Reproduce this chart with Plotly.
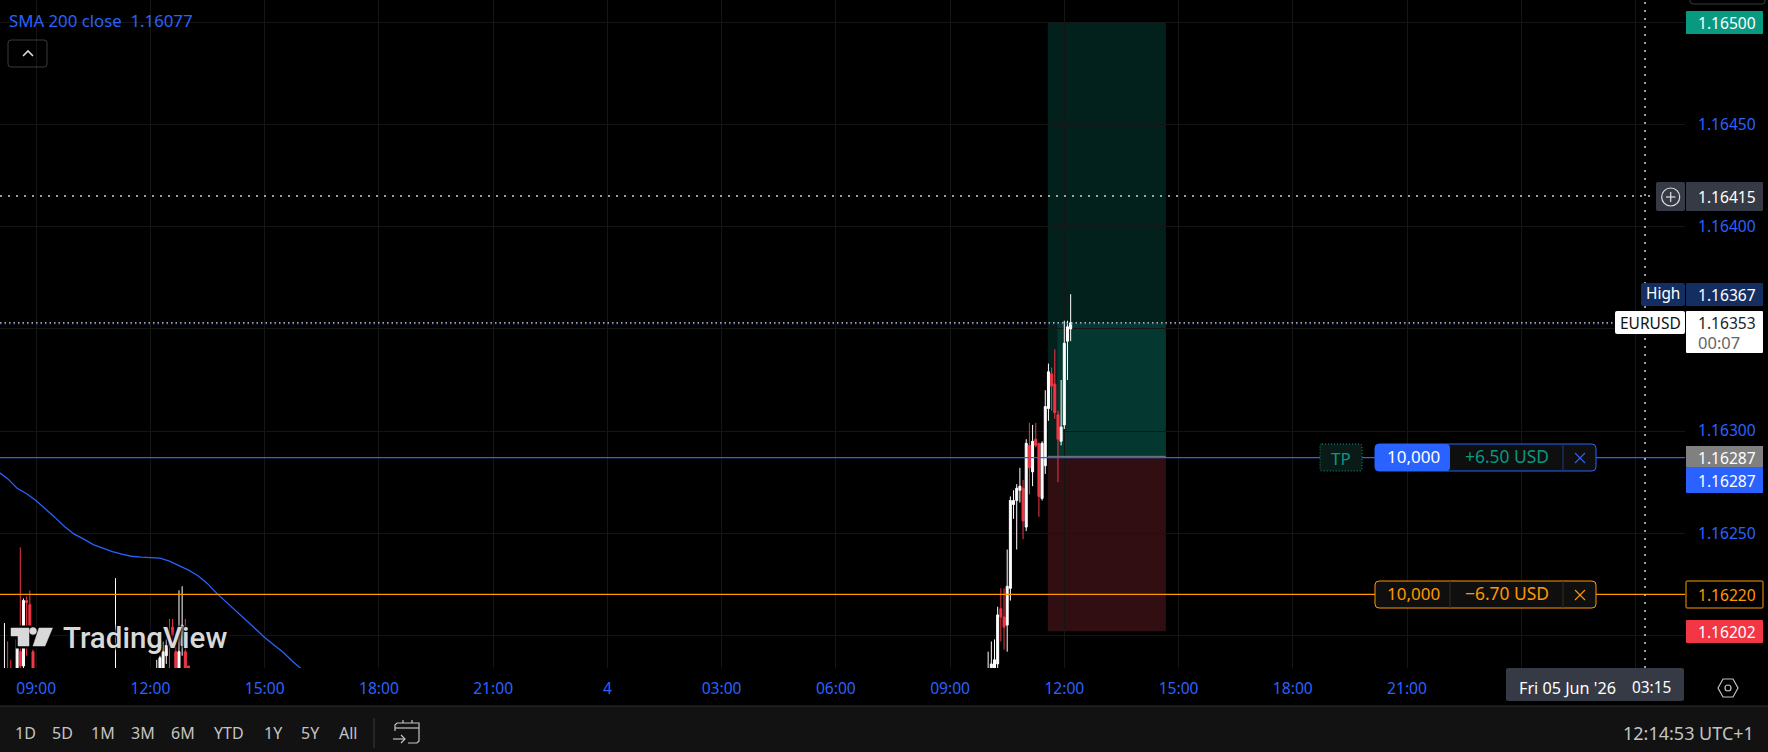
import plotly.graph_objects as go

# EURUSD 5 min candles (only the ones that show)
candle_times = [
    "2026-06-03 08:10", "2026-06-03 08:15", "2026-06-03 08:20", "2026-06-03 08:30", "2026-06-03 08:35",
    "2026-06-03 08:40", "2026-06-03 08:45", "2026-06-03 08:50", "2026-06-03 08:55", "2026-06-03 11:05",
    "2026-06-03 12:10", "2026-06-03 12:15", "2026-06-03 12:20", "2026-06-03 12:25", "2026-06-03 12:30",
    "2026-06-03 12:35", "2026-06-03 12:40", "2026-06-03 12:45", "2026-06-03 12:50", "2026-06-03 12:55",
    "2026-06-03 13:00",
    "2026-06-04 10:00", "2026-06-04 10:05", "2026-06-04 10:10", "2026-06-04 10:15", "2026-06-04 10:20",
    "2026-06-04 10:25", "2026-06-04 10:30", "2026-06-04 10:35", "2026-06-04 10:40", "2026-06-04 10:45",
    "2026-06-04 10:50", "2026-06-04 10:55", "2026-06-04 11:00", "2026-06-04 11:05", "2026-06-04 11:10",
    "2026-06-04 11:15", "2026-06-04 11:20", "2026-06-04 11:25", "2026-06-04 11:30", "2026-06-04 11:35",
    "2026-06-04 11:40", "2026-06-04 11:45", "2026-06-04 11:50", "2026-06-04 11:55", "2026-06-04 12:00",
    "2026-06-04 12:05", "2026-06-04 12:10",
]
opens = [
    1.16170, 1.16178, 1.16180, 1.16175, 1.16192, 1.16185, 1.16217, 1.16215, 1.16192, 1.16178,
    1.16170, 1.16178, 1.16180, 1.16190, 1.16200, 1.16204, 1.16192, 1.16178, 1.16195, 1.16192, 1.16185,
    1.16178, 1.16181, 1.16182, 1.16186, 1.16213, 1.16209, 1.16205, 1.16223, 1.16264, 1.16266,
    1.16271, 1.16272, 1.16253, 1.16293, 1.16280, 1.16296, 1.16294, 1.16267, 1.16283, 1.16311,
    1.16328, 1.16323, 1.16308, 1.16295, 1.16303, 1.16344, 1.16350,
]
highs = [
    1.16206, 1.16197, 1.16188, 1.16200, 1.16243, 1.16218, 1.16219, 1.16222, 1.16193, 1.16228,
    1.16188, 1.16190, 1.16197, 1.16198, 1.16208, 1.16208, 1.16200, 1.16222, 1.16224, 1.16208, 1.16185,
    1.16192, 1.16197, 1.16198, 1.16214, 1.16223, 1.16223, 1.16242, 1.16268, 1.16271, 1.16274,
    1.16282, 1.16276, 1.16296, 1.16304, 1.16303, 1.16304, 1.16294, 1.16295, 1.16320, 1.16333,
    1.16331, 1.16340, 1.16310, 1.16325, 1.16354, 1.16354, 1.16367,
]
lows = [
    1.16165, 1.16168, 1.16170, 1.16170, 1.16178, 1.16180, 1.16190, 1.16199, 1.16175, 1.16175,
    1.16165, 1.16175, 1.16178, 1.16186, 1.16180, 1.16197, 1.16175, 1.16175, 1.16190, 1.16175, 1.16175,
    1.16175, 1.16178, 1.16180, 1.16183, 1.16197, 1.16193, 1.16192, 1.16217, 1.16257, 1.16242,
    1.16265, 1.16247, 1.16251, 1.16269, 1.16273, 1.16292, 1.16258, 1.16266, 1.16279, 1.16305,
    1.16310, 1.16306, 1.16275, 1.16293, 1.16301, 1.16325, 1.16344,
]
closes = [
    1.16178, 1.16172, 1.16175, 1.16198, 1.16185, 1.16217, 1.16216, 1.16204, 1.16178, 1.16180,
    1.16176, 1.16189, 1.16192, 1.16195, 1.16195, 1.16200, 1.16178, 1.16192, 1.16205, 1.16178, 1.16180,
    1.16181, 1.16186, 1.16188, 1.16210, 1.16209, 1.16204, 1.16224, 1.16266, 1.16266, 1.16272,
    1.16273, 1.16256, 1.16294, 1.16282, 1.16295, 1.16293, 1.16268, 1.16294, 1.16312, 1.16329,
    1.16322, 1.16309, 1.16296, 1.16302, 1.16343, 1.16351, 1.16353,
]

# SMA 200 line
sma_times = [
    "2026-06-03 08:00", "2026-06-03 08:15", "2026-06-03 08:30", "2026-06-03 08:45", "2026-06-03 09:00",
    "2026-06-03 09:15", "2026-06-03 09:30", "2026-06-03 09:45", "2026-06-03 10:00", "2026-06-03 10:15",
    "2026-06-03 10:30", "2026-06-03 10:45", "2026-06-03 11:00", "2026-06-03 11:15", "2026-06-03 11:30",
    "2026-06-03 11:45", "2026-06-03 12:00", "2026-06-03 12:15", "2026-06-03 12:30", "2026-06-03 12:45",
    "2026-06-03 13:00", "2026-06-03 13:15", "2026-06-03 13:30", "2026-06-03 13:45", "2026-06-03 14:00",
    "2026-06-03 14:15", "2026-06-03 14:30", "2026-06-03 14:45", "2026-06-03 15:00", "2026-06-03 15:15",
    "2026-06-03 15:30", "2026-06-03 15:45", "2026-06-03 16:00",
]
sma_values = [
    1.162801, 1.162767, 1.162720, 1.162693, 1.162659, 1.162615, 1.162576, 1.162532, 1.162495, 1.162471,
    1.162444, 1.162427, 1.162410, 1.162397, 1.162387, 1.162383, 1.162380, 1.162378, 1.162363, 1.162343,
    1.162319, 1.162292, 1.162253, 1.162204, 1.162162, 1.162121, 1.162079, 1.162033, 1.161989, 1.161950,
    1.161915, 1.161869, 1.161830,
]

time_ticks = [
    "2026-06-03 09:00", "2026-06-03 12:00", "2026-06-03 15:00", "2026-06-03 18:00", "2026-06-03 21:00",
    "2026-06-04 00:00", "2026-06-04 03:00", "2026-06-04 06:00", "2026-06-04 09:00", "2026-06-04 12:00",
    "2026-06-04 15:00", "2026-06-04 18:00", "2026-06-04 21:00", "2026-06-05 00:00", "2026-06-05 03:00",
]
time_labels = ["09:00", "12:00", "15:00", "18:00", "21:00", "4", "03:00", "06:00", "09:00", "12:00",
               "15:00", "18:00", "21:00", "", ""]
price_ticks = [1.162, 1.1625, 1.163, 1.1635, 1.164, 1.1645, 1.165]
price_labels = ["", "1.16250", "1.16300", "", "1.16400", "1.16450", ""]

# trade levels
entry = 1.16287
take_profit = 1.16500
stop_loss = 1.16202
order_level = 1.16220
last_price = 1.16353
cursor_price = 1.16415
cursor_time = "2026-06-05 03:15"
tool_start = "2026-06-04 11:34"
fill_start = "2026-06-04 11:49"
tool_end = "2026-06-04 14:40"

W, H = 1768, 752
PW, PH = 1685, 668  # plot area in px
FONT = "Noto Sans"
BLUE = "#2962ff"
ORANGE = "#ff9800"
GREEN = "#089981"
RED = "#f23645"
PANEL = "#363a45"
BAR = "#121212"
GRID = "#151515"


def px(x):
    return x / PW


def py(y):
    return 1 - y / PH


shapes = []
notes = []


def rbox(x0, y0, x1, y1, r=0, fill="rgba(0,0,0,0)", line=None, lw=1, dash=None):
    # rounded box in screen px
    p = (f"M {px(x0 + r)} {py(y0)} L {px(x1 - r)} {py(y0)} Q {px(x1)} {py(y0)} {px(x1)} {py(y0 + r)} "
         f"L {px(x1)} {py(y1 - r)} Q {px(x1)} {py(y1)} {px(x1 - r)} {py(y1)} "
         f"L {px(x0 + r)} {py(y1)} Q {px(x0)} {py(y1)} {px(x0)} {py(y1 - r)} "
         f"L {px(x0)} {py(y0 + r)} Q {px(x0)} {py(y0)} {px(x0 + r)} {py(y0)} Z")
    shapes.append(dict(type="path", path=p, xref="paper", yref="paper", fillcolor=fill,
                       line=dict(color=line or "rgba(0,0,0,0)", width=lw if line else 0, dash=dash or "solid")))


def pline(points, color, w=1.0, fill=None, close=False):
    p = "M " + " L ".join(f"{px(a)} {py(b)}" for a, b in points) + (" Z" if close else "")
    shapes.append(dict(type="path", path=p, xref="paper", yref="paper", line=dict(color=color, width=w),
                       fillcolor=fill or "rgba(0,0,0,0)"))


def circle(cx, cy, r, color, w=1.0, fill=None):
    shapes.append(dict(type="circle", xref="paper", yref="paper", x0=px(cx - r), x1=px(cx + r),
                       y0=py(cy + r), y1=py(cy - r), line=dict(color=color, width=w),
                       fillcolor=fill or "rgba(0,0,0,0)"))


def label(x, y, s, color, size=15.6, anchor="center", family=FONT, **font_extra):
    notes.append(dict(text=s, x=px(x), y=py(y), xref="paper", yref="paper", showarrow=False, xanchor=anchor,
                      yanchor="middle", borderpad=0, font=dict(family=family, size=size, color=color, **font_extra)))


# position tool, behind the candles
shapes += [
    dict(type="rect", xref="x", yref="y", x0=tool_start, x1=tool_end, y0=entry, y1=take_profit,
         fillcolor="#03211c", line_width=0, layer="below"),
    dict(type="rect", xref="x", yref="y", x0=fill_start, x1=tool_end, y0=entry, y1=last_price,
         fillcolor="#04372f", line_width=0, layer="below"),
    dict(type="rect", xref="x", yref="y", x0=tool_start, x1=tool_end, y0=stop_loss, y1=entry,
         fillcolor="#300e11", line_width=0, layer="below"),
    dict(type="line", xref="x", yref="y", x0=tool_start, x1=tool_end, y0=take_profit, y1=take_profit,
         line=dict(color="#0d4a3f", width=1), layer="below"),
]

# level lines
shapes += [
    dict(type="line", xref="x", yref="y", x0=tool_start, x1=tool_end, y0=entry + 0.000006, y1=entry + 0.000006,
         line=dict(color="#787b86", width=1)),
    dict(type="line", xref="paper", yref="y", x0=0, x1=1, y0=entry, y1=entry, line=dict(color=BLUE, width=1.2)),
    dict(type="line", xref="paper", yref="y", x0=0, x1=1, y0=order_level, y1=order_level,
         line=dict(color=ORANGE, width=1.2)),
    dict(type="line", xref="paper", yref="y", x0=0, x1=px(1615), y0=last_price - 0.000005,
         y1=last_price - 0.000005, line=dict(color=BLUE, width=1, dash="1.5px,3px")),
    dict(type="line", xref="paper", yref="y", x0=0, x1=px(1615), y0=last_price, y1=last_price,
         line=dict(color="#e8e8e8", width=1, dash="1.5px,3px")),
    dict(type="line", xref="paper", yref="y", x0=0, x1=px(1656), y0=cursor_price, y1=cursor_price,
         line=dict(color="#d0d0d0", width=1.5, dash="2px,6px")),
    dict(type="line", xref="x", yref="paper", x0=cursor_time, x1=cursor_time, y0=0, y1=1,
         line=dict(color="#d0d0d0", width=1.5, dash="2px,6px")),
]

# bottom toolbar
rbox(0, 706, W, H, fill=BAR)
shapes.append(dict(type="line", xref="paper", yref="paper", x0=0, x1=px(W), y0=py(706), y1=py(706),
                   line=dict(color="#2e2e2e", width=1)))
for cx, s in zip([25, 63, 103, 143, 183, 229, 273, 310, 348], ["1D", "5D", "1M", "3M", "6M", "YTD", "1Y", "5Y", "All"]):
    label(cx, 733, s, "#c4c4c4", 16)
shapes.append(dict(type="line", xref="paper", yref="paper", x0=px(374), x1=px(374), y0=py(718), y1=py(748),
                   line=dict(color="#3a3a3a", width=1)))
pline([(395, 731), (395, 725), (397, 723), (419, 723), (419, 741), (417, 743), (408, 743)], "#c4c4c4", 1.2)
pline([(395, 728), (419, 728)], "#c4c4c4", 1.2)
pline([(403, 720), (403, 723)], "#c4c4c4", 1.2)
pline([(412, 720), (412, 723)], "#c4c4c4", 1.2)
pline([(393, 739), (405, 739)], "#c4c4c4", 1.2)
pline([(401, 735), (405, 739), (401, 743)], "#c4c4c4", 1.2)
label(1755, 733, "12:14:53 UTC+1", "#c4c4c4", 18, anchor="right")

# legend bits, top left
label(8, 20, "SMA 200 close&nbsp;&nbsp;1.16077", BLUE, 16.8, anchor="left")
rbox(8, 40, 47, 67, r=3, line="#3a3a3a")
pline([(23, 56), (28, 51), (33, 56)], "#d8d8d8", 1.6)

# logo
pline([(11, 628), (29, 628), (29, 646), (18, 646), (18, 636), (11, 636)], "#000000", 5, fill="#000000", close=True)
pline([(39, 628), (52.5, 628), (45, 646), (33, 646)], "#000000", 5, fill="#000000", close=True)
pline([(11, 628), (29, 628), (29, 646), (18, 646), (18, 636), (11, 636)], "#d9d9d9", 0.5, fill="#d9d9d9", close=True)
pline([(39, 628), (52.5, 628), (45, 646), (33, 646)], "#d9d9d9", 0.5, fill="#d9d9d9", close=True)
circle(33, 631, 3.5, "#d9d9d9", 0.5, fill="#d9d9d9")
label(62, 638, "TradingView", "#d9d9d9", 29.5, anchor="left", family="Roboto", weight=500,
      shadow="0 0 3px #000, 0 0 3px #000, 0 0 4px #000")

# price scale tags
rbox(1690, -6, 1765, 4, r=3, line="#3a3a3a")
rbox(1686, 11, 1763, 34, r=1, fill=GREEN)
label(1697, 23, "1.16500", "#ffffff", anchor="left")
rbox(1656, 182, 1685, 211, r=2, fill=PANEL)
circle(1670.7, 197, 9, "#e0e0e0", 1.2)
pline([(1666, 197), (1675.5, 197)], "#e0e0e0", 1.2)
pline([(1670.7, 192), (1670.7, 202)], "#e0e0e0", 1.2)
rbox(1686, 182, 1763, 211, r=1, fill=PANEL)
label(1697, 197, "1.16415", "#ffffff", anchor="left")
rbox(1641, 283, 1685, 306, r=2, fill="#142e61")
label(1663, 293, "High", "#ffffff", 15.4)
rbox(1686, 283, 1763, 306, r=1, fill="#142e61")
label(1697, 295, "1.16367", "#ffffff", anchor="left")
rbox(1615, 311, 1685, 334, r=2, fill="#ffffff")
label(1650, 323, "EURUSD", "#111111", 15.5)
rbox(1686, 311, 1763, 353, r=1, fill="#ffffff")
label(1697, 323, "1.16353", "#222222", anchor="left")
label(1697, 342, "00:07", "#666666", 16.5, anchor="left")
rbox(1686, 446, 1763, 467, fill="#808080")
label(1697, 458, "1.16287", "#ffffff", anchor="left")
rbox(1686, 467, 1763, 493, r=1, fill=BLUE)
label(1697, 481, "1.16287", "#ffffff", anchor="left")
rbox(1686, 581, 1763, 608, r=1, fill="#000000", line=ORANGE)
label(1697, 595, "1.16220", ORANGE, anchor="left")
rbox(1686, 620, 1763, 643, r=1, fill=RED)
label(1697, 632, "1.16202", "#ffffff", anchor="left")

# order widgets
rbox(1320, 444, 1362, 471, r=2, fill="#0a1a17", line=GREEN, dash="1px,2px")
label(1341, 458, "TP", GREEN, 17)

rbox(1375, 444, 1596, 471, r=4, fill="#0f0f0f", line=BLUE)
rbox(1375, 444, 1450, 471, r=4, fill=BLUE)
pline([(1563, 444), (1563, 471)], "#1b3a8a", 1)
label(1413, 456, "10,000", "#ffffff", 17)
label(1507, 456, "+6.50 USD", GREEN, 17.4)
pline([(1575, 453), (1585, 463)], BLUE, 1.1)
pline([(1585, 453), (1575, 463)], BLUE, 1.1)

rbox(1375, 581, 1596, 608, r=4, fill="#0f0f0f", line=ORANGE)
pline([(1450, 581), (1450, 608)], "#3a2d1a", 1)
pline([(1563, 581), (1563, 608)], "#3a2d1a", 1)
label(1413, 593, "10,000", ORANGE, 17)
label(1507, 593, "\u22126.70 USD", ORANGE, 17.4)
pline([(1575, 590), (1585, 600)], ORANGE, 1.1)
pline([(1585, 590), (1575, 600)], ORANGE, 1.1)

# time scale cursor + settings
rbox(1506, 668, 1684, 701, r=2, fill=PANEL)
label(1518, 688, "Fri 05 Jun '26", "#ffffff", 16.2, anchor="left")
label(1631, 688, "03:15", "#ffffff", 15.4, anchor="left")
pline([(1718, 688), (1723, 679), (1733, 679), (1738, 688), (1733, 697), (1723, 697)], "#c4c4c4", 1.2, close=True)
circle(1728, 688, 3, "#c4c4c4", 1.2)

fig = go.Figure()
fig.add_trace(go.Candlestick(
    x=candle_times, open=opens, high=highs, low=lows, close=closes,
    increasing=dict(line=dict(color="#ffffff", width=1), fillcolor="#ffffff"),
    decreasing=dict(line=dict(color=RED, width=1), fillcolor=RED),
    whiskerwidth=0, hoverinfo="skip", showlegend=False
))
fig.add_trace(go.Scatter(
    x=sma_times, y=sma_values, mode="lines", line=dict(color=BLUE, width=1.3),
    hoverinfo="skip", showlegend=False
))

fig.update_layout(
    width=W, height=H,
    margin=dict(l=0, r=W - PW, t=0, b=H - PH, pad=0),
    paper_bgcolor="#000000", plot_bgcolor="#000000",
    font=dict(family=FONT, color=BLUE, size=15.6),
    boxgap=0.1,
    shapes=shapes, annotations=notes, showlegend=False,
    xaxis=dict(
        type="date", range=["2026-06-03 08:03", "2026-06-05 04:18"],
        tickmode="array", tickvals=time_ticks, ticktext=time_labels, tickangle=0,
        gridcolor=GRID, gridwidth=1, showline=False, zeroline=False, ticks="",
        ticklabelstandoff=9, rangeslider=dict(visible=False),
        tickfont=dict(family=FONT, size=15.6, color=BLUE), fixedrange=True,
    ),
    yaxis=dict(
        side="right", range=[1.16184, 1.16511],
        tickmode="array", tickvals=price_ticks, ticktext=price_labels,
        gridcolor=GRID, gridwidth=1, showline=False, zeroline=False, ticks="",
        ticklabelstandoff=12, tickfont=dict(family=FONT, size=15.6, color=BLUE), fixedrange=True,
    ),
)

fig.write_html("out.html", config=dict(displayModeBar=False),
               post_script="document.body.style.margin='0';document.body.style.background='#000';")
